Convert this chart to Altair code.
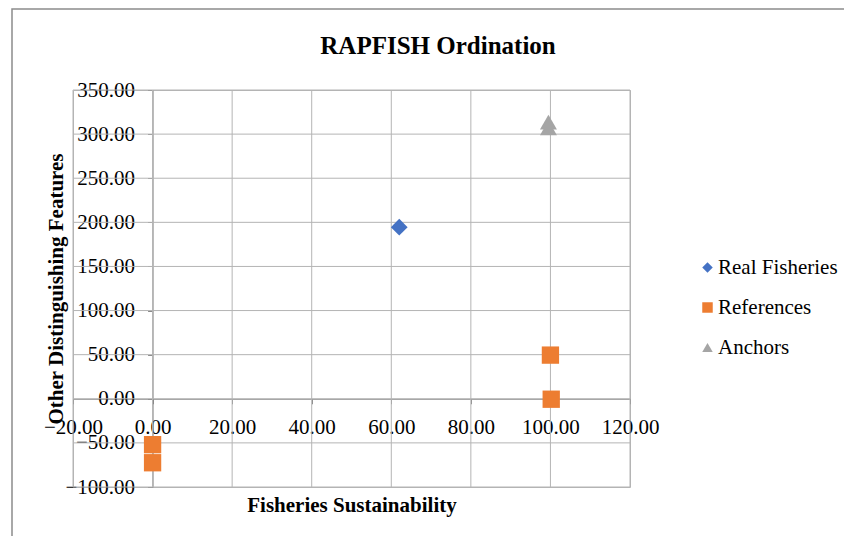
import altair as alt
import pandas as pd

series_names = ["Real Fisheries", "References", "Anchors"]
series_colors = ["#4472C4", "#ED7D31", "#A5A5A5"]
series_shapes = ["diamond", "square", "triangle-up"]
series_sizes = [280, 300, 289]

real_x = [62.0]
real_y = [194.5]
ref_x = [0.0, 0.0, 100.0, 100.2]
ref_y = [-52.0, -72.5, 49.5, -0.5]
anc_x = [99.5, 99.5]
anc_y = [307.0, 313.5]

x_ticks = [-20, 0, 20, 40, 60, 80, 100, 120]
y_ticks = [-100, -50, 0, 50, 100, 150, 200, 250, 300, 350]

rows = []
for name, xs_, ys_ in zip(series_names, [real_x, ref_x, anc_x], [real_y, ref_y, anc_y]):
    for a, b in zip(xs_, ys_):
        rows.append({"x": a, "y": b, "series": name})
df = pd.DataFrame(rows)

W, H = 557, 397
FONT = "Liberation Serif"
GRID = "#B4B4B4"
AXIS = "#888888"

xs = alt.Scale(domain=[-20, 120], nice=False, zero=False)
ys = alt.Scale(domain=[-100, 350], nice=False, zero=False)

x_off = -H * 100 / 450
y_off = -W * 20 / 140

x_axis = alt.Axis(
    values=x_ticks, format=".2f", offset=x_off, grid=False,
    title="Fisheries Sustainability",
    titleX=W / 2, titleY=113, titleBaseline="alphabetic", titleAlign="center",
    titleFont=FONT, titleFontSize=21, titleFontWeight="bold", titleColor="black",
    labelFont=FONT, labelFontSize=21, labelColor="black", labelPadding=13,
    domainColor=AXIS, tickColor=AXIS, tickSize=5, labelFlush=False,
)
y_axis = alt.Axis(
    values=y_ticks, format=".2f", offset=y_off, grid=False,
    title="Other Distinguishing Features",
    titleX=-96.5, titleY=H / 2, titleAngle=270, titleBaseline="middle", titleAlign="center",
    titleFont=FONT, titleFontSize=21, titleFontWeight="bold", titleColor="black",
    labelFont=FONT, labelFontSize=21, labelColor="black", labelPadding=13,
    domainColor=AXIS, tickColor=AXIS, tickSize=5, labelFlush=False,
)

legend = alt.Legend(
    title=None, orient="none", legendX=624, legendY=167,
    labelFont=FONT, labelFontSize=21, labelColor="black",
    symbolSize=110, rowPadding=18, labelOffset=0, padding=0,
)
color_enc = alt.Color("series:N", scale=alt.Scale(domain=series_names, range=series_colors), legend=legend)
shape_enc = alt.Shape("series:N", scale=alt.Scale(domain=series_names, range=series_shapes), legend=legend)

border = alt.Chart(pd.DataFrame({"a": [0]})).mark_rect(
    fill="transparent", stroke="#8C8C8C", strokeWidth=1.5
).encode(
    x=alt.value(-61), x2=alt.value(1000), y=alt.value(-81), y2=alt.value(1000)
)

vgrid = alt.Chart(pd.DataFrame({"v": x_ticks})).mark_rule(
    color=GRID, strokeWidth=1
).encode(x=alt.X("v:Q", scale=xs, axis=x_axis))

hgrid = alt.Chart(pd.DataFrame({"h": y_ticks})).mark_rule(
    color=GRID, strokeWidth=1
).encode(y=alt.Y("h:Q", scale=ys, axis=y_axis))

layers = [border, vgrid, hgrid]
for name, sz in zip(series_names, series_sizes):
    layers.append(
        alt.Chart(df).transform_filter(alt.datum.series == name)
        .mark_point(filled=True, opacity=1, size=sz)
        .encode(
            x=alt.X("x:Q", scale=xs, axis=x_axis),
            y=alt.Y("y:Q", scale=ys, axis=y_axis),
            color=color_enc,
            shape=shape_enc,
        )
    )

chart = alt.layer(*layers).properties(
    width=W,
    height=H,
    autosize=alt.AutoSizeParams(type="none"),
    padding={"left": 65, "top": 82, "right": 214, "bottom": 49},
    title=alt.TitleParams(
        "RAPFISH Ordination", font=FONT, fontSize=25, fontWeight="bold",
        color="black", anchor="middle", frame="group", dx=86.5, offset=-70.75,
        baseline="alphabetic",
    ),
).configure(background="white", font=FONT).configure_view(stroke=GRID).configure_legend(
    labelFont=FONT, labelFontSize=21, symbolSize=110, labelColor="black"
)

chart.save("out.html", embed_options={"renderer": "svg", "actions": False})
